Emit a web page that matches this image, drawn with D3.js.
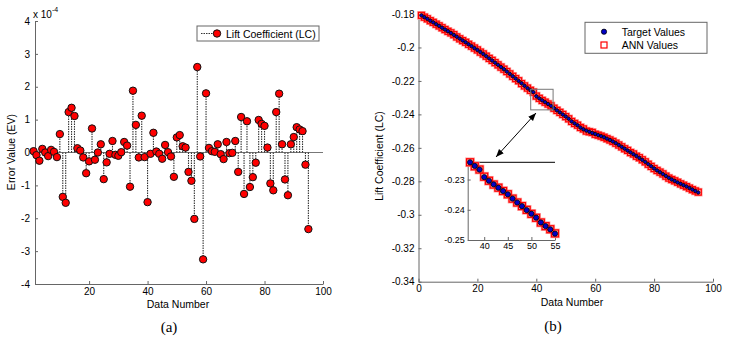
<!DOCTYPE html>
<html>
<head>
<meta charset="utf-8">
<script src="https://cdn.jsdelivr.net/npm/d3@7"></script>
<style>
body { margin: 0; background: #fff; }
svg text { font-family: "Liberation Sans", Arial, sans-serif; fill: #000; }
.axis path, .axis line { stroke: #666; }
</style>
</head>
<body>
<div id="chart"></div>
<script>
// data number (x) for both panels
let dataNumber = d3.range(1, 96);

// panel (a): error values, in units of 1e-4
let errorValues = [
  0.04, -0.08, -0.25, 0.11, 0.00, -0.11, 0.08, 0.02, -0.14, 0.56,
  -1.35, -1.53, 1.23, 1.36, 1.11, 0.13, 0.06, -0.15, -0.63, -0.27,
  0.73, -0.22, 0.00, 0.25, -0.81, -0.30, -0.04, 0.35, -0.07, -0.10,
  0.01, 0.32, 0.21, -1.04, 1.88, 0.84, -0.15, 1.12, -0.14, -1.51,
  -0.04, 0.60, 0.03, -0.04, -0.19, 0.23, 0.01, -0.12, -0.74, 0.46,
  0.53, 0.19, 0.15, -0.59, -0.86, -2.02, 2.60, -0.12, -3.25, 1.80,
  0.14, 0.04, 0.02, 0.25, -0.05, -0.20, 0.32, -0.02, -0.01, 0.35,
  -0.59, 1.08, -1.26, 0.95, -1.05, -0.75, -0.31, 0.99, 0.87, 0.81,
  0.15, -0.94, -1.15, 1.23, 1.79, 0.25, -0.82, -1.30, 0.25, 0.47,
  0.77, 0.70, 0.65, -0.37, -2.33
];
let errorTicks = [-4, -3, -2, -1, 0, 1, 2, 3, 4];
let errorXTicks = [20, 40, 60, 80, 100];

// panel (b): lift coefficient, target and ANN
let targetValues = [
  -0.1808, -0.1819, -0.1829, -0.1840, -0.1850, -0.1861, -0.1871, -0.1882, -0.1893, -0.1903,
  -0.1914, -0.1925, -0.1936, -0.1947, -0.1958, -0.1969, -0.1981, -0.1992, -0.2004, -0.2015,
  -0.2027, -0.2039, -0.2052, -0.2065, -0.2078, -0.2091, -0.2104, -0.2117, -0.2130, -0.2144,
  -0.2158, -0.2172, -0.2186, -0.2200, -0.2214, -0.2229, -0.2243, -0.2255, -0.2267, -0.2292,
  -0.2304, -0.2316, -0.2327, -0.2338, -0.2349, -0.2363, -0.2376, -0.2388, -0.2401, -0.2413,
  -0.2426, -0.2442, -0.2454, -0.2465, -0.2479, -0.2489, -0.2497, -0.2504, -0.2511, -0.2517,
  -0.2524, -0.2530, -0.2537, -0.2545, -0.2553, -0.2562, -0.2572, -0.2583, -0.2594, -0.2605,
  -0.2616, -0.2627, -0.2638, -0.2649, -0.2660, -0.2672, -0.2684, -0.2697, -0.2710, -0.2723,
  -0.2735, -0.2746, -0.2757, -0.2768, -0.2779, -0.2789, -0.2798, -0.2807, -0.2815, -0.2823,
  -0.2831, -0.2840, -0.2849, -0.2858, -0.2867
];
let annValues = [
  -0.18080, -0.18189, -0.18288, -0.18401, -0.18500, -0.18609, -0.18711, -0.18820, -0.18929, -0.19036,
  -0.19127, -0.19235, -0.19372, -0.19484, -0.19591, -0.19691, -0.19811, -0.19919, -0.20034, -0.20147,
  -0.20277, -0.20388, -0.20520, -0.20653, -0.20772, -0.20907, -0.21040, -0.21174, -0.21299, -0.21439,
  -0.21580, -0.21723, -0.21862, -0.21990, -0.22159, -0.22298, -0.22429, -0.22561, -0.22669, -0.22905,
  -0.23040, -0.23166, -0.23270, -0.23380, -0.23488, -0.23632, -0.23760, -0.23879, -0.24003, -0.24135,
  -0.24265, -0.24422, -0.24542, -0.24644, -0.24781, -0.24870, -0.24996, -0.25039, -0.25078, -0.25188,
  -0.25241, -0.25300, -0.25370, -0.25453, -0.25530, -0.25618, -0.25723, -0.25830, -0.25940, -0.26054,
  -0.26154, -0.26281, -0.26367, -0.26500, -0.26590, -0.26713, -0.26837, -0.26980, -0.27109, -0.27238,
  -0.27352, -0.27451, -0.27559, -0.27692, -0.27808, -0.27893, -0.27972, -0.28057, -0.28153, -0.28235,
  -0.28318, -0.28407, -0.28497, -0.28576, -0.28647
];
let liftTicks = [-0.34, -0.32, -0.3, -0.28, -0.26, -0.24, -0.22, -0.2, -0.18];
let liftXTicks = [0, 20, 40, 60, 80, 100];
// inset (zoom on data 37..55)
let insetFrom = 37, insetTo = 55;
let insetYTicks = [-0.25, -0.24, -0.23];
let insetXTicks = [40, 45, 50, 55];

let svg = d3.select("#chart").append("svg")
  .attr("width", 737)
  .attr("height", 343)
  .style("background", "#fff");

let fmt = d => String(+d.toFixed(2));

function styleAxis(g, size) {
  g.classed("axis", true);
  g.selectAll("text").style("font-size", size + "px").style("font-family", "Liberation Sans, Arial, sans-serif").attr("fill", "#000");
}

// ---------- panel (a) ----------
let xA = d3.scaleLinear().domain([1.5, 100]).range([35, 323]);
let yA = d3.scaleLinear().domain([-4, 4]).range([284, 21]);

svg.append("g")
  .attr("transform", "translate(35,0)")
  .call(d3.axisLeft(yA).tickValues(errorTicks).tickFormat(d => String(d)).tickSize(-3).tickSizeOuter(0).tickPadding(5))
  .call(g => styleAxis(g, 10));

svg.append("g")
  .attr("transform", "translate(0,284)")
  .call(d3.axisBottom(xA).tickValues(errorXTicks).tickSize(-3).tickSizeOuter(0).tickPadding(4))
  .call(g => styleAxis(g, 10));

// exponent label
let expo = svg.append("text").attr("x", 33).attr("y", 18).style("font-size", "10px");
expo.append("tspan").text("x 10");
expo.append("tspan").attr("dy", -6).style("font-size", "7px").text("-4");

// baseline
svg.append("line")
  .attr("x1", xA.range()[0]).attr("x2", xA.range()[1])
  .attr("y1", yA(0)).attr("y2", yA(0))
  .attr("stroke", "#777");

// stems
svg.append("g").selectAll("line")
  .data(errorValues)
  .join("line")
  .attr("x1", (d, i) => xA(dataNumber[i]))
  .attr("x2", (d, i) => xA(dataNumber[i]))
  .attr("y1", yA(0))
  .attr("y2", d => yA(d))
  .attr("stroke", "#333")
  .attr("stroke-width", 1.1)
  .attr("stroke-dasharray", "1.5,1");

svg.append("g").selectAll("circle")
  .data(errorValues)
  .join("circle")
  .attr("cx", (d, i) => xA(dataNumber[i]))
  .attr("cy", d => yA(d))
  .attr("r", 3.7)
  .attr("fill", "#ff0000")
  .attr("stroke", "#111")
  .attr("stroke-width", 1);

// legend (a)
let legA = svg.append("g");
legA.append("rect").attr("x", 197).attr("y", 26).attr("width", 122).attr("height", 15)
  .attr("fill", "#fff").attr("stroke", "#666");
legA.append("line").attr("x1", 201).attr("x2", 216).attr("y1", 33.5).attr("y2", 33.5)
  .attr("stroke", "#333").attr("stroke-dasharray", "1.5,1");
legA.append("circle").attr("cx", 217).attr("cy", 33.5).attr("r", 3.7)
  .attr("fill", "#ff0000").attr("stroke", "#111");
legA.append("text").attr("x", 226).attr("y", 37.5).style("font-size", "10.5px").text("Lift Coefficient (LC)");

svg.append("text")
  .attr("transform", "translate(15,152) rotate(-90)")
  .attr("text-anchor", "middle")
  .style("font-size", "10.5px")
  .text("Error Value (EV)");

svg.append("text").attr("x", 178).attr("y", 308).attr("text-anchor", "middle")
  .style("font-size", "10.5px").text("Data Number");

svg.append("text").attr("x", 169).attr("y", 332).attr("text-anchor", "middle")
  .style("font-family", "Liberation Serif, serif").style("font-size", "15px").text("(a)");

// ---------- panel (b) ----------
let xB = d3.scaleLinear().domain([0, 100]).range([418.5, 713]);
let yB = d3.scaleLinear().domain([-0.34, -0.18]).range([281.7, 14]);

svg.append("g")
  .attr("transform", "translate(418.5,0)")
  .call(d3.axisLeft(yB).tickValues(liftTicks).tickFormat(fmt).tickSize(-3).tickSizeOuter(0).tickPadding(4))
  .call(g => styleAxis(g, 10));

svg.append("g")
  .attr("transform", "translate(0,281.7)")
  .call(d3.axisBottom(xB).tickValues(liftXTicks).tickSize(-3).tickSizeOuter(0).tickPadding(3))
  .call(g => styleAxis(g, 10));

function drawSeries(g, xs, ys, sq, r) {
  let idx = d3.range(dataNumber.length).filter(i => xs.domain()[0] <= dataNumber[i] && dataNumber[i] <= xs.domain()[1] + 0.01);
  g.append("g").selectAll("rect")
    .data(idx)
    .join("rect")
    .attr("x", i => xs(dataNumber[i]) - sq / 2)
    .attr("y", i => ys(annValues[i]) - sq / 2)
    .attr("width", sq).attr("height", sq)
    .attr("fill", "none")
    .attr("stroke", "#ff9c9c")
    .attr("stroke-width", 2.6);
  g.append("g").selectAll("rect")
    .data(idx)
    .join("rect")
    .attr("x", i => xs(dataNumber[i]) - sq / 2)
    .attr("y", i => ys(annValues[i]) - sq / 2)
    .attr("width", sq).attr("height", sq)
    .attr("fill", "none")
    .attr("stroke", "#ff0000")
    .attr("stroke-width", 1.2);
  g.append("g").selectAll("circle")
    .data(idx)
    .join("circle")
    .attr("cx", i => xs(dataNumber[i]))
    .attr("cy", i => ys(targetValues[i]))
    .attr("r", r)
    .attr("fill", "#0000c8")
    .attr("stroke", "#000")
    .attr("stroke-width", 0.8);
}

drawSeries(svg.append("g"), xB, yB, 6, 1.7);

// zoom box
svg.append("rect")
  .attr("x", xB(38.1)).attr("y", yB(-0.2250))
  .attr("width", xB(45.7) - xB(38.1)).attr("height", yB(-0.2373) - yB(-0.2250))
  .attr("fill", "none").attr("stroke", "#777");

// arrow
let defs = svg.append("defs");
defs.append("marker")
  .attr("id", "head")
  .attr("viewBox", "0 0 10 10")
  .attr("refX", 10).attr("refY", 5)
  .attr("markerWidth", 8).attr("markerHeight", 8)
  .attr("markerUnits", "userSpaceOnUse")
  .attr("orient", "auto-start-reverse")
  .append("path").attr("d", "M0,1L10,5L0,9Z").attr("fill", "#000");
svg.append("line")
  .attr("x1", 536).attr("y1", 113).attr("x2", 496).attr("y2", 157)
  .attr("stroke", "#000").attr("stroke-width", 1)
  .attr("marker-start", "url(#head)").attr("marker-end", "url(#head)");

// inset
let xI = d3.scaleLinear().domain([36.5, insetTo]).range([467.7, 555]);
let yI = d3.scaleLinear().domain([-0.25, targetValues[insetFrom - 1]]).range([240, 162.3]);
let inset = svg.append("g");
inset.append("line").attr("x1", 467.7).attr("x2", 555).attr("y1", 162.3).attr("y2", 162.3).attr("stroke", "#000");
inset.append("g")
  .attr("transform", "translate(467.7,0)")
  .call(d3.axisLeft(yI).tickValues(insetYTicks).tickFormat(fmt).tickSize(-3).tickSizeOuter(0).tickPadding(3))
  .call(g => styleAxis(g, 9));
inset.append("g")
  .attr("transform", "translate(0,240)")
  .call(d3.axisBottom(xI).tickValues(insetXTicks).tickSize(-3).tickSizeOuter(0).tickPadding(3))
  .call(g => styleAxis(g, 9));
drawSeries(inset, d3.scaleLinear().domain([insetFrom, insetTo]).range([xI(insetFrom), xI(insetTo)]), yI, 7, 2.6);

// legend (b)
let legB = svg.append("g");
legB.append("rect").attr("x", 585).attr("y", 22.3).attr("width", 122).attr("height", 31)
  .attr("fill", "#fff").attr("stroke", "#666");
legB.append("circle").attr("cx", 604).attr("cy", 31.7).attr("r", 2.6)
  .attr("fill", "#0000c8").attr("stroke", "#000").attr("stroke-width", 0.8);
legB.append("rect").attr("x", 601).attr("y", 42).attr("width", 6).attr("height", 6)
  .attr("fill", "none").attr("stroke", "#ff0000").attr("stroke-width", 1.2);
legB.append("text").attr("x", 621.7).attr("y", 35.5).style("font-size", "10.5px").text("Target Values");
legB.append("text").attr("x", 621.7).attr("y", 49).style("font-size", "10.5px").text("ANN Values");

svg.append("text")
  .attr("transform", "translate(383,156) rotate(-90)")
  .attr("text-anchor", "middle")
  .style("font-size", "10.5px")
  .text("Lift Coefficient (LC)");

svg.append("text").attr("x", 572).attr("y", 306).attr("text-anchor", "middle")
  .style("font-size", "10.5px").text("Data Number");

svg.append("text").attr("x", 553).attr("y", 331).attr("text-anchor", "middle")
  .style("font-family", "Liberation Serif, serif").style("font-size", "15px").text("(b)");
</script>
</body>
</html>
